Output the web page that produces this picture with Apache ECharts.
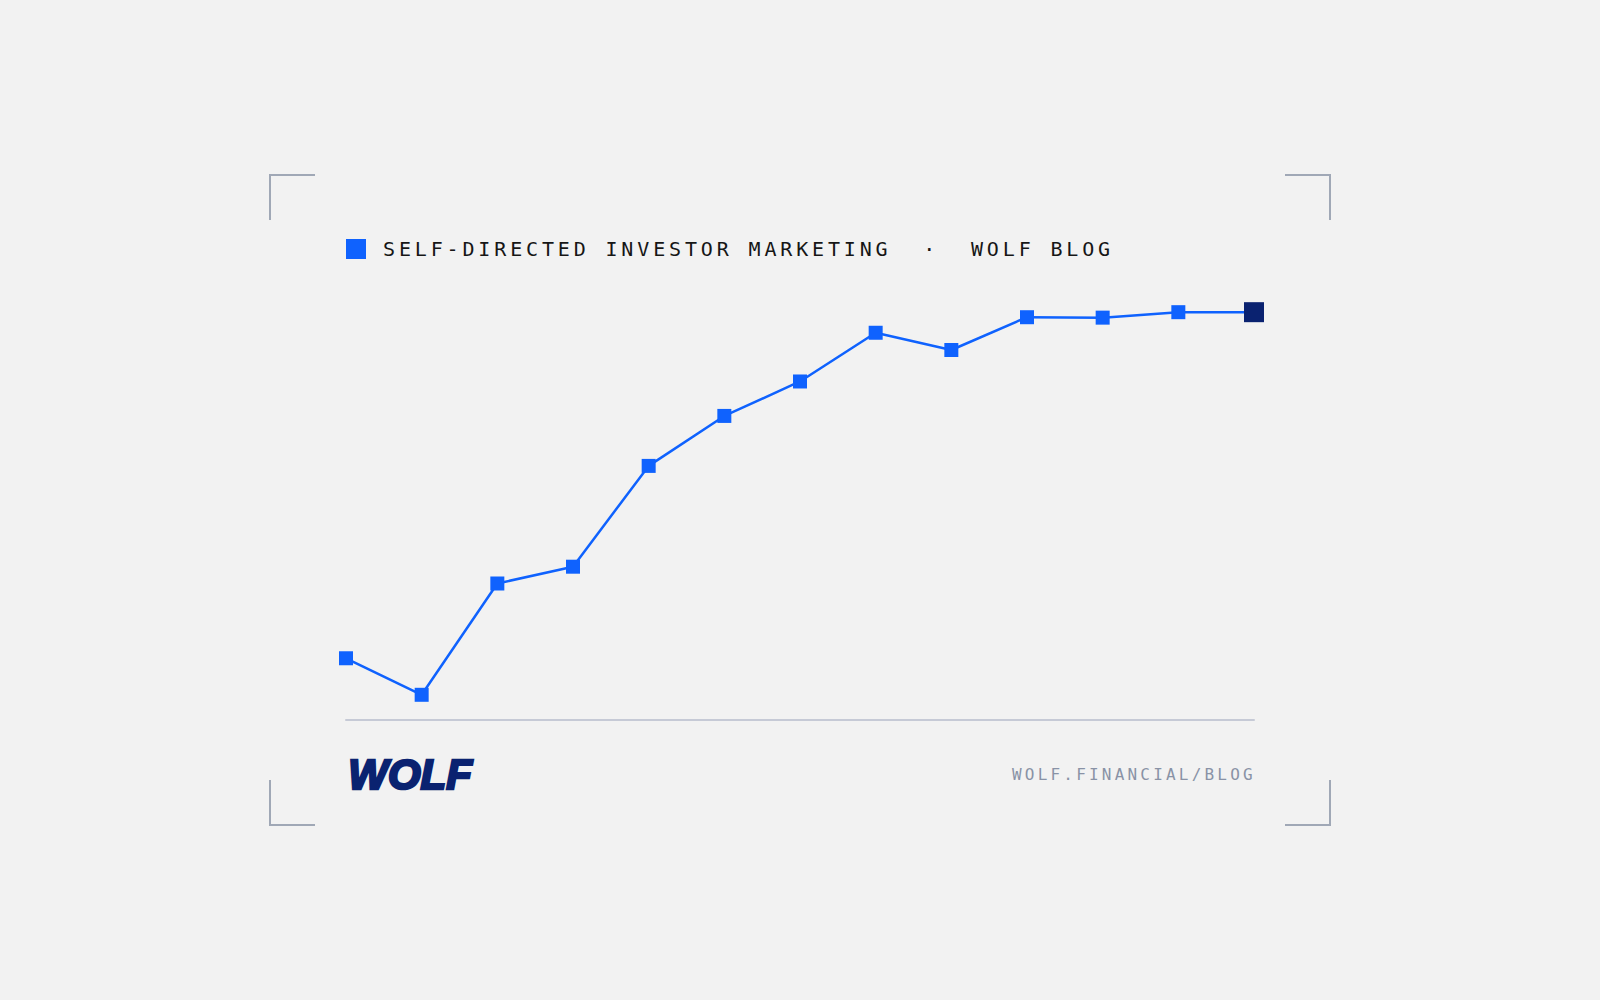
<!DOCTYPE html>
<html>
<head>
<meta charset="utf-8">
<title>Self-directed investor marketing</title>
<script src="https://cdn.jsdelivr.net/npm/echarts@6/dist/echarts.min.js"></script>
<style>
    html, body { margin: 0; padding: 0; background: #f2f2f2; }
    #chart { width: 1600px; height: 1000px; }
    /* keep the double spaces around the dot */
    #chart svg text { white-space: pre; }
</style>
</head>
<body>
<div id="chart"></div>
<script>
// data (index, baseline = 0)
const seriesName = 'SELF-DIRECTED INVESTOR MARKETING  \u00b7  WOLF BLOG';
const periods = ['P1', 'P2', 'P3', 'P4', 'P5', 'P6', 'P7', 'P8', 'P9', 'P10', 'P11', 'P12', 'P13'];
const values = [14.7, 6.0, 32.5, 36.5, 60.5, 72.4, 80.6, 92.2, 88.1, 95.9, 95.8, 97.1, 97.1];
const footerText = 'WOLF.FINANCIAL/BLOG';
const logoText = 'WOLF';

const BLUE = '#0f62fe';
const NAVY = '#0a2270';
const MONO = '"DejaVu Sans Mono", "Liberation Mono", monospace';

// svg renderer has no letterSpacing option, so it is set on the text nodes after render
const spacing = {};
spacing[seriesName] = '3.85px';
spacing[footerText] = '3.2px';

let myChart = echarts.init(document.getElementById('chart'), null, {renderer: 'svg'});

// corner brackets around the card
function bracket(points)
{
    return {
        type: 'polyline',
        shape: {points: points},
        style: {stroke: '#a0a8b6', lineWidth: 2, fill: null},
        silent: true
    };
}

let seriesData = values.map(function (v, i)
{
    if (i === values.length - 1) {
        return {value: v, symbolSize: 20, itemStyle: {color: NAVY}};
    }
    return v;
});

let option = {
    backgroundColor: '#f2f2f2',
    animation: false,
    legend: {
        left: 346,
        top: 239,
        padding: 0,
        icon: 'rect',
        itemWidth: 20,
        itemHeight: 20,
        selectedMode: false,
        data: [seriesName],
        textStyle: {
            fontFamily: MONO,
            fontSize: 20,
            color: '#161616',
            padding: [0, 0, 0, 12]
        }
    },
    grid: {
        left: 346,
        right: 346,
        top: 300,
        bottom: 280
    },
    xAxis: {
        type: 'category',
        data: periods,
        boundaryGap: false,
        axisLine: {lineStyle: {color: '#c6cad6', width: 2}},
        axisTick: {show: false},
        axisLabel: {show: false},
        splitLine: {show: false}
    },
    yAxis: {
        type: 'value',
        min: 0,
        max: 100,
        show: false
    },
    series: [{
        name: seriesName,
        type: 'line',
        data: seriesData,
        symbol: 'rect',
        symbolSize: 14,
        showAllSymbol: true,
        itemStyle: {color: BLUE},
        lineStyle: {color: BLUE, width: 2.5}
    }],
    graphic: [
        bracket([[270, 220], [270, 175], [315, 175]]),
        bracket([[1285, 175], [1330, 175], [1330, 220]]),
        bracket([[270, 780], [270, 825], [315, 825]]),
        bracket([[1285, 825], [1330, 825], [1330, 780]]),
        {
            // logo stand-in: heavy slanted word mark
            type: 'text',
            left: 347,
            top: 752,
            silent: true,
            style: {
                text: logoText,
                fill: NAVY,
                stroke: NAVY,
                lineWidth: 2.5,
                font: 'italic bold 42px "Liberation Sans", Arial, sans-serif'
            }
        },
        {
            type: 'text',
            left: 1012,
            top: 766,
            silent: true,
            style: {
                text: footerText,
                fill: '#8992a6',
                font: '16px ' + MONO
            }
        }
    ]
};

myChart.on('finished', function ()
{
    document.querySelectorAll('#chart svg text').forEach(function (t)
    {
        let sp = spacing[t.textContent];
        if (sp) {
            t.setAttribute('letter-spacing', sp);
        }
    });
});

myChart.setOption(option);
</script>
</body>
</html>
